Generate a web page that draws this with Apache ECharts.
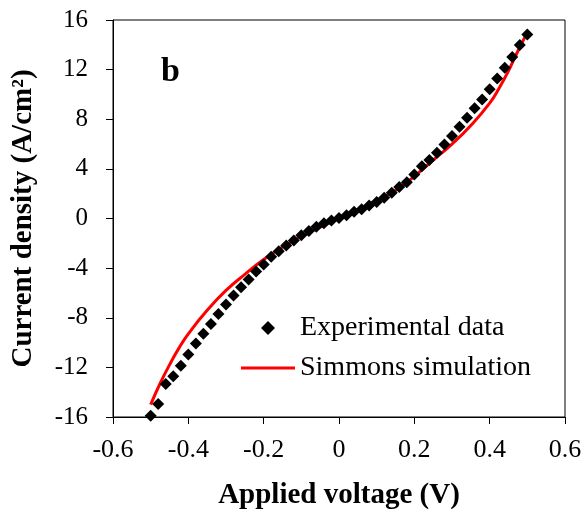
<!DOCTYPE html>
<html>
<head>
<meta charset="utf-8">
<script src="https://cdn.jsdelivr.net/npm/echarts@6/dist/echarts.min.js"></script>
<style>
  html, body { margin: 0; padding: 0; background: #fff; }
  #chart { width: 585px; height: 515px; }
</style>
</head>
<body>
<div id="chart"></div>
<script>
// experimental J-V points (V, A/cm2)
const expV = [-0.50, -0.48, -0.46, -0.44, -0.42, -0.40, -0.38, -0.36, -0.34, -0.32, -0.30,
  -0.28, -0.26, -0.24, -0.22, -0.20, -0.18, -0.16, -0.14, -0.12, -0.10,
  -0.08, -0.06, -0.04, -0.02, 0.00, 0.02, 0.04, 0.06, 0.08, 0.10,
  0.12, 0.14, 0.16, 0.18, 0.20, 0.22, 0.24, 0.26, 0.28, 0.30,
  0.32, 0.34, 0.36, 0.38, 0.40, 0.42, 0.44, 0.46, 0.48, 0.50];
const expJ = [-15.9, -14.95, -13.34, -12.72, -11.86, -10.97, -10.08, -9.28, -8.50, -7.69, -6.94,
  -6.21, -5.54, -4.92, -4.28, -3.71, -3.09, -2.64, -2.18, -1.78, -1.35,
  -1.00, -0.67, -0.38, -0.16, 0.05, 0.27, 0.54, 0.75, 1.05, 1.34,
  1.67, 2.07, 2.53, 2.93, 3.55, 4.22, 4.71, 5.30, 5.97, 6.64,
  7.40, 8.12, 8.88, 9.60, 10.41, 11.29, 12.16, 13.02, 13.98, 14.84];

// Simmons simulation curve
const simV = [-0.5, -0.475, -0.45, -0.425, -0.4, -0.35, -0.3, -0.25, -0.2, -0.15, -0.1, -0.05, 0,
  0.05, 0.1, 0.15, 0.2, 0.25, 0.3, 0.35, 0.4, 0.425, 0.45, 0.475, 0.495];
const simJ = [-15.0, -13.3, -11.8, -10.45, -9.3, -7.4, -5.8, -4.5, -3.3, -2.3, -1.45, -0.7, 0,
  0.7, 1.45, 2.25, 3.4, 4.7, 6.0, 7.5, 9.3, 10.5, 11.9, 13.5, 14.7];

const font = 'Liberation Serif';

const chart = echarts.init(document.getElementById('chart'), null, { renderer: 'canvas' });
chart.setOption({
  animation: false,
  backgroundColor: '#fff',
  textStyle: { fontFamily: font, color: '#000' },
  grid: {
    left: 113, right: 20, top: 20, bottom: 98,
    show: true, borderColor: '#000', borderWidth: 1
  },
  graphic: [{
    type: 'text', left: 161, top: 55,
    style: { text: 'b', font: 'bold 34px "Liberation Serif"', fill: '#000' }
  }],
  legend: {
    orient: 'vertical',
    left: 236, top: 309,
    itemWidth: 54, itemHeight: 14, itemGap: 12,
    symbolKeepAspect: true,
    textStyle: { fontFamily: font, fontSize: 28, color: '#000' },
    data: [
      { name: 'Experimental data', icon: 'path://M7,0L14,7L7,14L0,7Z', itemStyle: { color: '#000', opacity: 1 } },
      { name: 'Simmons simulation', icon: 'path://M0,0H54V3H0Z', itemStyle: { color: '#ff0000' } }
    ]
  },
  xAxis: {
    type: 'value', min: -0.6, max: 0.6, interval: 0.2,
    name: 'Applied voltage (V)', nameLocation: 'middle', nameGap: 64,
    nameTextStyle: { fontFamily: font, fontSize: 29, fontWeight: 'bold', color: '#000' },
    axisLine: { onZero: false, lineStyle: { color: '#000', width: 1 } },
    axisTick: { show: true, inside: false, length: 7, lineStyle: { color: '#000' } },
    splitLine: { show: false },
    axisLabel: {
      fontFamily: font, fontSize: 26, color: '#000', margin: 20,
      formatter: v => String(Math.round(v * 10) / 10)
    }
  },
  yAxis: {
    type: 'value', min: -16, max: 16, interval: 4,
    name: 'Current density (A/cm²)', nameLocation: 'middle', nameGap: 75,
    nameTextStyle: { fontFamily: font, fontSize: 29, fontWeight: 'bold', color: '#000' },
    axisLine: { show: true, onZero: false, lineStyle: { color: '#000', width: 1 } },
    axisTick: { show: true, inside: false, length: 7, lineStyle: { color: '#000' } },
    splitLine: { show: false },
    axisLabel: { fontFamily: font, fontSize: 25, color: '#000', margin: 25 }
  },
  series: [
    {
      name: 'Simmons simulation',
      type: 'line',
      smooth: true,
      symbol: 'none',
      lineStyle: { color: '#ff0000', width: 3 },
      itemStyle: { color: '#ff0000' },
      data: simV.map((v, i) => [v, simJ[i]])
    },
    {
      name: 'Experimental data',
      type: 'scatter',
      symbol: 'diamond',
      symbolSize: 12,
      itemStyle: { color: '#000', opacity: 1 },
      data: expV.map((v, i) => [v, expJ[i]]),
      z: 3
    }
  ]
});
</script>
</body>
</html>
